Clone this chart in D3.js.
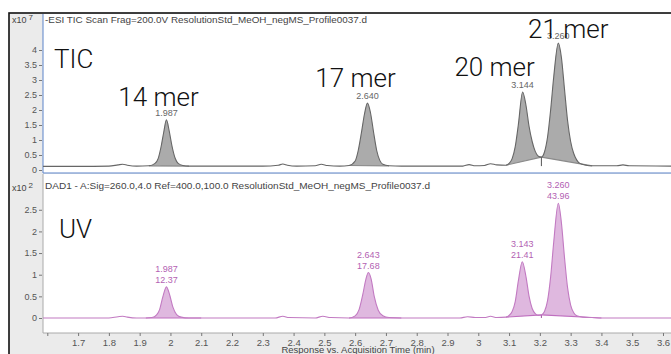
<!DOCTYPE html>
<meta charset="utf-8">
<style>
body { margin: 0; background: #fff; }
svg { display: block; }
.axis path { display: none; }
.axis line { stroke: #777; }
.axis text { font: 9px "Liberation Sans", sans-serif; fill: #555; }
.hdr { font: 9px "Liberation Sans", sans-serif; fill: #444; }
.big { font-family: Roboto, sans-serif; font-weight: 300; font-size: 26px; fill: #111; }
</style>
<svg width="671" height="354"></svg>
<script src="https://d3js.org/d3.v7.min.js"></script>
<script>

// TIC trace, x10^7 counts vs. time (min)
var ticTime = [1.586, 1.70, 1.80, 1.83, 1.845, 1.86, 1.89, 1.93, 1.95, 1.96, 1.97, 1.978, 1.987, 1.996, 2.005, 2.015, 2.025, 2.04, 2.06,
  2.30, 2.35, 2.365, 2.38, 2.41, 2.47, 2.49, 2.51, 2.55, 2.58, 2.60, 2.61, 2.62, 2.63, 2.640, 2.65, 2.66, 2.67, 2.68, 2.69, 2.71, 2.75,
  2.95, 2.97, 2.99, 3.02, 3.04, 3.06, 3.09, 3.10, 3.11, 3.12, 3.13, 3.144, 3.155, 3.165, 3.175, 3.185, 3.195, 3.205,
  3.215, 3.225, 3.235, 3.245, 3.260, 3.27, 3.28, 3.29, 3.30, 3.31, 3.32, 3.33, 3.35, 3.37, 3.45, 3.47, 3.49, 3.626];
var ticValue = [0.12, 0.12, 0.13, 0.17, 0.19, 0.16, 0.13, 0.14, 0.22, 0.38, 0.80, 1.25, 1.67, 1.30, 0.80, 0.40, 0.22, 0.15, 0.13,
  0.13, 0.16, 0.20, 0.16, 0.13, 0.14, 0.19, 0.15, 0.13, 0.15, 0.30, 0.65, 1.22, 1.85, 2.23, 1.90, 1.25, 0.65, 0.32, 0.19, 0.14, 0.13,
  0.13, 0.18, 0.14, 0.15, 0.21, 0.17, 0.16, 0.22, 0.38, 0.78, 1.50, 2.60, 2.15, 1.45, 0.95, 0.62, 0.46, 0.43,
  0.60, 1.10, 2.00, 3.10, 4.23, 3.75, 2.70, 1.65, 0.95, 0.55, 0.33, 0.22, 0.16, 0.14, 0.14, 0.17, 0.14, 0.13];

// UV (DAD1 260 nm) trace, x10^2 mAU vs. time (min)
var uvTime = [1.586, 1.80, 1.83, 1.845, 1.86, 1.89, 1.92, 1.94, 1.955, 1.965, 1.975, 1.987, 1.998, 2.008, 2.02, 2.035, 2.06, 2.10,
  2.34, 2.365, 2.385, 2.47, 2.495, 2.52, 2.58, 2.60, 2.613, 2.625, 2.635, 2.643, 2.652, 2.662, 2.675, 2.69, 2.71, 2.75,
  2.94, 2.965, 2.99, 3.02, 3.04, 3.06, 3.09, 3.10, 3.11, 3.12, 3.13, 3.143, 3.155, 3.165, 3.175, 3.185, 3.195, 3.205,
  3.215, 3.225, 3.235, 3.245, 3.260, 3.27, 3.28, 3.29, 3.30, 3.31, 3.32, 3.34, 3.37, 3.40, 3.626];
var uvValue = [0.0, 0.0, 0.03, 0.04, 0.02, 0.0, 0.0, 0.01, 0.07, 0.20, 0.48, 0.72, 0.52, 0.25, 0.08, 0.02, 0.0, 0.0,
  0.0, 0.04, 0.01, 0.0, 0.04, 0.01, 0.0, 0.05, 0.20, 0.55, 0.90, 1.05, 0.90, 0.50, 0.18, 0.05, 0.01, 0.0,
  0.0, 0.03, 0.01, 0.01, 0.04, 0.01, 0.02, 0.06, 0.15, 0.38, 0.85, 1.30, 0.95, 0.50, 0.22, 0.10, 0.06, 0.07,
  0.15, 0.40, 0.95, 1.75, 2.65, 2.20, 1.40, 0.70, 0.30, 0.12, 0.05, 0.02, 0.01, 0.0, 0.0];

// integration windows [start, end] in minutes
var ticWindows = [[1.93, 2.06], [2.58, 2.71], [3.09, 3.205], [3.205, 3.37]];
var uvWindows = [[1.92, 2.10], [2.58, 2.75], [3.09, 3.205], [3.205, 3.40]];

// peak labels
var ticPeakRT = ["1.987", "2.640", "3.144", "3.260"];
var uvPeakRT = ["1.987", "2.643", "3.143", "3.260"];
var uvPeakArea = ["12.37", "17.68", "21.41", "43.96"];
var merNames = ["14 mer", "17 mer", "20 mer", "21 mer"];

var xTicks = [1.6, 1.7, 1.8, 1.9, 2, 2.1, 2.2, 2.3, 2.4, 2.5, 2.6, 2.7, 2.8, 2.9, 3, 3.1, 3.2, 3.3, 3.4, 3.5, 3.6];
var ticTicks = [0, 0.5, 1, 1.5, 2, 2.5, 3, 3.5, 4];
var uvTicks = [0, 0.5, 1, 1.5, 2, 2.5];

var svg = d3.select("svg");

var x = d3.scaleLinear().domain([1.586, 3.626]).range([43, 671]);
var yTic = d3.scaleLinear().domain([0, 5.2]).range([170, 14]);
var yUv = d3.scaleLinear().domain([0, 3.28]).range([318, 176]);

var tic = ticTime.map(function(t, i) { return {t: t, v: ticValue[i]}; });
var uv = uvTime.map(function(t, i) { return {t: t, v: uvValue[i]}; });

// frame
svg.append("rect").attr("x", 9).attr("y", 13).attr("width", 670).attr("height", 350)
    .attr("fill", "#ebebeb").attr("stroke", "#111").attr("stroke-width", 1.6);
svg.append("rect").attr("x", 43).attr("y", 14).attr("width", 628).attr("height", 159).attr("fill", "#fff");
svg.append("rect").attr("x", 43).attr("y", 174).attr("width", 628).attr("height", 159).attr("fill", "#fff");
svg.append("line").attr("x1", 43).attr("x2", 43).attr("y1", 14).attr("y2", 173).attr("stroke", "#5b83c9");
svg.append("line").attr("x1", 43).attr("x2", 671).attr("y1", 173).attr("y2", 173).attr("stroke", "#5b83c9");
svg.append("line").attr("x1", 43).attr("x2", 43).attr("y1", 174).attr("y2", 333).attr("stroke", "#aaa");
svg.append("line").attr("x1", 43).attr("x2", 671).attr("y1", 333).attr("y2", 333).attr("stroke", "#aaa");

function drawTrace(data, windows, y, fill, edge, line, baseColor, split) {
  var g = svg.append("g");
  windows.forEach(function(w) {
    var seg = data.filter(function(d) { return d.t >= w[0] && d.t <= w[1]; });
    var a = seg[0], b = seg[seg.length - 1];
    var base = function(t) { return a.v + (b.v - a.v) * (t - a.t) / (b.t - a.t); };
    g.append("path")
        .datum(seg)
        .attr("fill", fill)
        .attr("stroke", "none")
        .attr("d", d3.area().curve(d3.curveMonotoneX)
          .x(function(d) { return x(d.t); })
          .y0(function(d) { return y(base(d.t)); })
          .y1(function(d) { return y(d.v); }));
    g.append("line")
        .attr("x1", x(a.t)).attr("x2", x(b.t))
        .attr("y1", y(a.v)).attr("y2", y(b.v))
        .attr("stroke", baseColor).attr("stroke-width", 1.2);
  });
  // split line between the two overlapping peaks
  var v = data.find(function(d) { return d.t === 3.205; });
  g.append("line").attr("x1", x(v.t)).attr("x2", x(v.t))
      .attr("y1", y(v.v)).attr("y2", y(v.v) + split)
      .attr("stroke", edge);
  g.append("path")
      .datum(data)
      .attr("fill", "none")
      .attr("stroke", line)
      .attr("stroke-width", 1.1)
      .attr("d", d3.line().curve(d3.curveMonotoneX)
        .x(function(d) { return x(d.t); })
        .y(function(d) { return y(d.v); }));
}

drawTrace(tic, ticWindows, yTic, "#ababab", "#555", "#666", "#8a8a8a", 9);
drawTrace(uv, uvWindows, yUv, "#dfb8df", "#a050a0", "#c27ac2", "#bf6fbf", 3);

// y axes
svg.append("g").attr("class", "axis")
    .attr("transform", "translate(42,0)")
    .call(d3.axisLeft(yTic).tickValues(ticTicks).tickSize(3).tickPadding(2).tickFormat(d3.format("")));
svg.append("g").attr("class", "axis")
    .attr("transform", "translate(42,0)")
    .call(d3.axisLeft(yUv).tickValues(uvTicks).tickSize(3).tickPadding(2).tickFormat(d3.format("")));

// x axis
svg.append("g").attr("class", "axis")
    .attr("transform", "translate(0,333)")
    .call(d3.axisBottom(x).tickValues(xTicks).tickSize(3).tickPadding(3)
      .tickFormat(function(d) { return d === 1.6 ? "" : d3.format("")(d); }))
  .selectAll("text").style("font-size", "9.5px");

svg.append("text").attr("class", "hdr")
    .attr("x", 358).attr("y", 353).attr("text-anchor", "middle")
    .style("font-size", "9.5px")
    .text("Response vs. Acquisition Time (min)");

// multiplier and headers
function mult(yPos, exp) {
  var t = svg.append("text").attr("class", "hdr").attr("x", 12).attr("y", yPos).attr("fill", "#555");
  t.append("tspan").text("x10");
  t.append("tspan").attr("dx", 2).attr("dy", -3).attr("font-size", "8px").text(exp);
}
mult(23, "7");
mult(191, "2");

svg.append("text").attr("class", "hdr").attr("x", 45).attr("y", 23)
    .attr("textLength", 322).attr("lengthAdjust", "spacingAndGlyphs")
    .text("-ESI TIC Scan Frag=200.0V ResolutionStd_MeOH_negMS_Profile0037.d");
svg.append("text").attr("class", "hdr").attr("x", 45).attr("y", 189)
    .attr("textLength", 385).attr("lengthAdjust", "spacingAndGlyphs")
    .text("DAD1 - A:Sig=260.0,4.0  Ref=400.0,100.0 ResolutionStd_MeOH_negMS_Profile0037.d");

// peak labels
function apex(data, t) {
  return data.find(function(d) { return d.t === +t; });
}
ticPeakRT.forEach(function(rt) {
  var p = apex(tic, rt);
  svg.append("text").attr("class", "hdr")
      .attr("x", x(p.t)).attr("y", yTic(p.v) - 4)
      .attr("text-anchor", "middle").style("fill", "#666")
      .text(rt);
});
uvPeakRT.forEach(function(rt, i) {
  var p = apex(uv, rt);
  var t = svg.append("text").attr("class", "hdr")
      .attr("text-anchor", "middle").style("fill", "#b35fb3");
  t.append("tspan").attr("x", x(p.t)).attr("y", yUv(p.v) - 15).text(rt);
  t.append("tspan").attr("x", x(p.t)).attr("y", yUv(p.v) - 4).text(uvPeakArea[i]);
});

// big annotations
var merOffset = [[-8, -14], [-12, -16], [-28, -16], [10, -5]];
ticPeakRT.forEach(function(rt, i) {
  var p = apex(tic, rt);
  svg.append("text").attr("class", "big")
      .attr("x", x(p.t) + merOffset[i][0]).attr("y", yTic(p.v) + merOffset[i][1])
      .attr("text-anchor", "middle")
      .text(merNames[i]);
});
svg.append("text").attr("class", "big").attr("x", 54).attr("y", 68).text("TIC");
svg.append("text").attr("class", "big").attr("x", 59).attr("y", 238).text("UV");

</script>
